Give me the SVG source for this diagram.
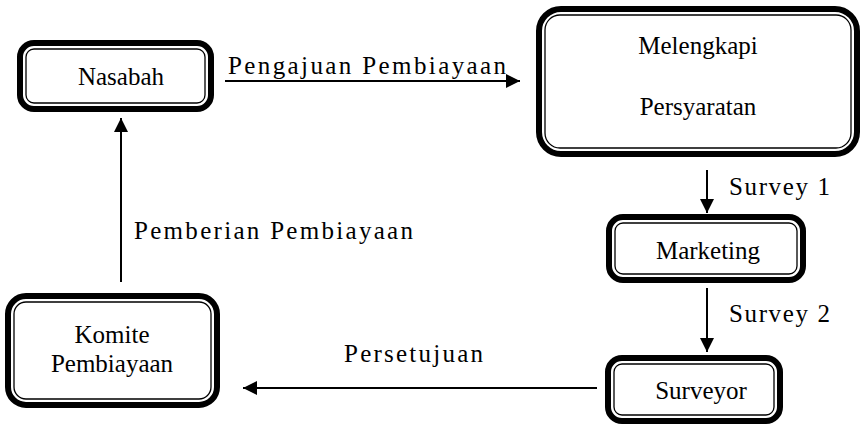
<svg xmlns="http://www.w3.org/2000/svg" width="864" height="426" viewBox="0 0 864 426">
<style>
.outer{fill:#fff;stroke:#000;stroke-width:6}
.inner{fill:none;stroke:#000;stroke-width:1.3}
.t{font-family:"Liberation Serif","Times New Roman",serif;font-size:25px;fill:#000;text-anchor:middle}
.l{font-family:"Liberation Serif","Times New Roman",serif;font-size:25px;fill:#000}
.c{stroke:#000;stroke-width:2;fill:none}
</style>
<defs>
<marker id="ah" viewBox="0 0 10 10" refX="10" refY="5" markerWidth="7" markerHeight="7" markerUnits="strokeWidth" orient="auto">
<path d="M0,0 L10,5 L0,10 z" fill="#000"/>
</marker>
</defs>
<g id="nasabah">
<rect class="outer" x="20" y="43" width="191" height="66" rx="14"/>
<rect class="inner" x="26" y="49" width="179" height="54" rx="8"/>
<text class="t" x="121" y="85" font-size="26">Nasabah</text>
</g>
<g id="melengkapi">
<rect class="outer" x="539" y="9" width="318" height="145" rx="22"/>
<rect class="inner" x="545" y="15" width="306" height="133" rx="15"/>
<text class="t" x="698" y="54">Melengkapi</text>
<text class="t" x="698" y="115">Persyaratan</text>
</g>
<g id="marketing">
<rect class="outer" x="609" y="217" width="194" height="63" rx="14"/>
<rect class="inner" x="615" y="223" width="182" height="51" rx="8"/>
<text class="t" x="708" y="259">Marketing</text>
</g>
<g id="surveyor">
<rect class="outer" x="608" y="358" width="172" height="63" rx="14"/>
<rect class="inner" x="614" y="364" width="160" height="51" rx="8"/>
<text class="t" x="701" y="399">Surveyor</text>
</g>
<g id="komite">
<rect class="outer" x="8" y="296" width="209" height="109" rx="18"/>
<rect class="inner" x="14" y="302" width="197" height="97" rx="12"/>
<text class="t" x="112" y="343">Komite</text>
<text class="t" x="112" y="372">Pembiayaan</text>
</g>
<g id="connectors">
<line class="c" x1="225" y1="81" x2="520" y2="81" marker-end="url(#ah)"/>
<line class="c" x1="707" y1="170" x2="707" y2="213" marker-end="url(#ah)"/>
<line class="c" x1="707" y1="288" x2="707" y2="352" marker-end="url(#ah)"/>
<line class="c" x1="597" y1="388" x2="243" y2="388" marker-end="url(#ah)"/>
<line class="c" x1="121" y1="282" x2="121" y2="118" marker-end="url(#ah)"/>
<text class="l" x="228" y="74" textLength="278" lengthAdjust="spacing">Pengajuan Pembiayaan</text>
<text class="l" x="729" y="195" textLength="101" lengthAdjust="spacing">Survey 1</text>
<text class="l" x="729" y="322" textLength="101" lengthAdjust="spacing">Survey 2</text>
<text class="l" x="344" y="362" textLength="139" lengthAdjust="spacing">Persetujuan</text>
<text class="l" x="134" y="239" textLength="279" lengthAdjust="spacing">Pemberian Pembiayaan</text>
</g>
</svg>
